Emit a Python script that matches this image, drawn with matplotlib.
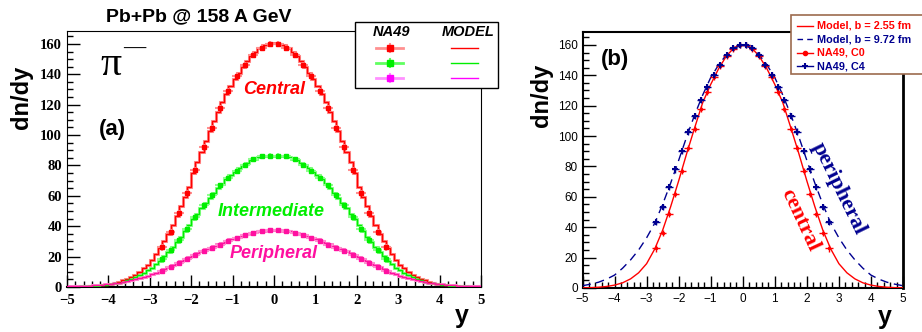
import numpy as np
import matplotlib
matplotlib.use("Agg")
import matplotlib.pyplot as plt
from matplotlib.lines import Line2D
from matplotlib.patches import Rectangle
from matplotlib.ticker import MultipleLocator

# ---- data ----
# model histograms, bin centres 0.05 ... 4.95 (bin width 0.1), mirrored to y < 0
central_half = [160.5, 160, 159, 157.5, 155, 152, 148.5, 145, 141, 137,
                132, 127, 121.5, 115.5, 109, 102.5, 96, 89, 82, 75,
                66, 59.5, 53, 46.5, 40.5, 35, 30, 25.5, 21.5, 17.8,
                14.8, 12.2, 10, 8.2, 6.7, 5.4, 4.3, 3.4, 2.7, 2.1,
                1.6, 1.2, 0.9, 0.65, 0.45, 0.3, 0.2, 0.13, 0.08, 0.05]
intermediate_half = [86.5, 86.4, 86, 85.3, 84.4, 83.3, 81.8, 80, 78, 75.8,
                     73.4, 70.8, 68, 65, 62, 58.8, 55.5, 52, 48.3, 44.5,
                     40.6, 36.8, 33.1, 29.6, 26.2, 23, 20.1, 17.4, 15, 12.8,
                     10.9, 9.2, 7.7, 6.4, 5.3, 4.4, 3.6, 2.9, 2.4, 1.9,
                     1.5, 1.2, 0.95, 0.75, 0.58, 0.45, 0.35, 0.27, 0.2, 0.15]
peripheral_half = [37.5, 37.4, 37.1, 36.7, 36.2, 35.6, 34.9, 34.1, 33.2, 32.3,
                   31.3, 30.3, 29.2, 28.1, 27, 25.9, 24.8, 23.6, 22.4, 21.2,
                   19.9, 18.5, 17.1, 15.7, 14.3, 12.9, 11.6, 10.4, 9.3, 8.3,
                   7.4, 6.6, 5.8, 5.1, 4.5, 3.9, 3.4, 2.9, 2.5, 2.2,
                   1.9, 1.6, 1.35, 1.15, 0.95, 0.8, 0.65, 0.55, 0.45, 0.35]

# NA49 points at |y| = 0.1 ... 2.7
pts_y_half = [0.1, 0.3, 0.5, 0.7, 0.9, 1.1, 1.3, 1.5, 1.7, 1.9, 2.1, 2.3, 2.5, 2.7]
central_pts = [160, 157.5, 153, 146, 139, 129, 118, 104.5, 92, 77, 62, 49, 36, 26]
intermediate_pts = [86.5, 86, 84, 80.5, 76.5, 72, 67, 60.5, 54, 46, 38.5, 31, 24.5, 18.5]
peripheral_pts = [37.5, 37, 35.5, 34, 32, 30, 27.5, 25.5, 23.5, 21, 18.5, 15.5, 13, 10.5]
c4_pts = [160, 158, 153.5, 147, 140, 132, 123.5, 113, 103, 90, 78, 66.5, 53.5, 43.5]

# panel (b) model curves at |y| = 0, 0.25, ... 5
line_y_half = [0, 0.25, 0.5, 0.75, 1.0, 1.25, 1.5, 1.75, 2.0, 2.25, 2.5,
               2.75, 3.0, 3.25, 3.5, 3.75, 4.0, 4.25, 4.5, 4.75, 5.0]
model_b255 = [160, 158.5, 153, 144.5, 134, 122, 105.5, 88.5, 70.5, 53.5, 38,
              25.5, 16, 10, 6, 3.4, 1.9, 1.0, 0.5, 0.2, 0.1]
model_b972 = [160, 158, 153.8, 147, 138.5, 127, 114, 99.5, 84, 69, 55,
              42.5, 33, 25, 18.5, 13, 8.5, 5.8, 3.8, 2.5, 1.5]

RED = '#ff0000'
GREEN = '#00ee00'
PINK = '#ff10a0'
NAVY = '#000090'

W, H = 922, 332


def fpx(x, y):
    # pixel position (from top-left) -> figure fraction
    return x / W, 1 - y / H


def mirror(vals):
    return np.array(vals[::-1] + vals)


def mirror_pos(vals):
    return np.array([-v for v in vals[::-1]] + vals)


def mirror_line(vals):
    return np.array(vals[::-1] + vals[1:])


def style_axes(ax, serif):
    ax.set_xlim(-5, 5)
    ax.set_ylim(0, 168.5)
    ax.xaxis.set_major_locator(MultipleLocator(1))
    ax.xaxis.set_minor_locator(MultipleLocator(0.2))
    ax.yaxis.set_major_locator(MultipleLocator(20))
    ax.yaxis.set_minor_locator(MultipleLocator(5))
    ax.tick_params(which='both', direction='in', top=False, right=False)
    ax.tick_params(which='major', length=9, width=1)
    ax.tick_params(which='minor', length=4.5, width=1)
    if serif:
        family, size, weight = 'Liberation Serif', 10.5, 'bold'
    else:
        family, size, weight = 'Liberation Sans', 8.5, 'normal'
    for lab in ax.get_xticklabels() + ax.get_yticklabels():
        lab.set_fontfamily(family)
        lab.set_fontsize(size)
        lab.set_fontweight(weight)


fig = plt.figure(figsize=(W / 100, H / 100), dpi=100)

# ---------------- panel (a) ----------------
ax1 = fig.add_axes([67 / W, 45 / H, 414 / W, 256 / H])
edges = np.linspace(-5, 5, 101)
pts_y = mirror_pos(pts_y_half)
for half, pts, col, light, err in [
        (central_half, central_pts, RED, '#ff9090', 2.0),
        (intermediate_half, intermediate_pts, GREEN, '#90ff90', 1.5),
        (peripheral_half, peripheral_pts, PINK, '#ff90d0', 1.0)]:
    ax1.stairs(mirror(half), edges, color=light, lw=2.2, zorder=2)
    ax1.stairs(mirror(half), edges, color=col, lw=1.0, zorder=3)
    ax1.errorbar(pts_y, mirror(pts), xerr=0.12, yerr=err, fmt='s', ms=2.5,
                 color=col, ecolor=light, elinewidth=1.5, capsize=0, zorder=4)
for sp in ax1.spines.values():
    sp.set_linewidth(0.8)
ax1.spines['bottom'].set_linewidth(1.5)
style_axes(ax1, serif=True)
ax1.tick_params(axis='x', pad=5)
ax1.set_ylabel('dn/dy', fontfamily='Liberation Sans', fontweight='bold', fontsize=17)
ax1.yaxis.set_label_coords(-0.082, 0.742)
ax1.set_xlabel('y', fontfamily='Liberation Sans', fontweight='bold', fontsize=18)
ax1.xaxis.set_label_coords(0.954, -0.065)

txt_kw = dict(fontfamily='Liberation Sans', fontweight='bold', fontstyle='italic',
              fontsize=13, ha='center', va='center')
fig.text(*fpx(274, 90), 'Central', color=RED, **txt_kw)
fig.text(*fpx(271, 211), 'Intermediate', color=GREEN, **txt_kw)
fig.text(*fpx(274, 254), 'Peripheral', color=PINK, **txt_kw)
fig.text(*fpx(199, 17), 'Pb+Pb @ 158 A GeV', fontfamily='Liberation Sans',
         fontweight='bold', fontsize=14, ha='center', va='center')
fig.text(*fpx(111, 65), '\u03c0', fontfamily='Liberation Serif', fontsize=30,
         ha='center', va='center')
fig.text(*fpx(134, 49), '\u2014', fontfamily='Liberation Serif', fontweight='bold',
         fontsize=16, ha='center', va='center')
fig.text(*fpx(112, 130), '(a)', fontfamily='Liberation Sans', fontweight='bold',
         fontsize=16, ha='center', va='center')

# legend box of panel (a)
x0, y0 = fpx(355, 88)
x1, y1 = fpx(498, 22)
fig.add_artist(Rectangle((x0, y0), x1 - x0, y1 - y0, transform=fig.transFigure,
                         facecolor='white', edgecolor='black', lw=1.0, zorder=10))
fig.text(*fpx(391, 32), 'NA49', fontfamily='Liberation Sans', fontweight='bold',
         fontstyle='italic', fontsize=10.5, ha='center', va='center', zorder=11)
fig.text(*fpx(468, 32), 'MODEL', fontfamily='Liberation Sans', fontweight='bold',
         fontstyle='italic', fontsize=10.5, ha='center', va='center', zorder=11)
for yy, col, light in [(47.7, RED, '#ff9090'), (62.7, GREEN, '#60ff60'),
                       (78.3, '#ff00ff', '#ff90ff')]:
    xa, ya = fpx(376, yy)
    xb, _ = fpx(403, yy)
    fig.add_artist(Line2D([xa, xb], [ya, ya], transform=fig.transFigure,
                          color=light, lw=2, zorder=11))
    xm, _ = fpx(390, yy)
    _, yt = fpx(390, yy - 4)
    _, yb = fpx(390, yy + 4)
    fig.add_artist(Line2D([xm, xm], [yb, yt], transform=fig.transFigure,
                          color=light, lw=1.5, zorder=11))
    fig.add_artist(Line2D([xm], [ya], transform=fig.transFigure, marker='s', ms=4,
                          color=col, lw=0, zorder=12))
    xc, _ = fpx(451, yy)
    xd, _ = fpx(478, yy)
    fig.add_artist(Line2D([xc, xd], [ya, ya], transform=fig.transFigure,
                          color=col, lw=1, zorder=11))

# ---------------- panel (b) ----------------
ax2 = fig.add_axes([582.5 / W, 44 / H, 320.5 / W, 256 / H])
line_y = mirror_pos(line_y_half[1:])
half_n = len(line_y) // 2
line_y = np.concatenate([line_y[:half_n], [0.0], line_y[half_n:]])
ax2.plot(line_y, mirror_line(model_b255), color=RED, lw=1.0, zorder=3)
ax2.plot(line_y, mirror_line(model_b972), color=NAVY, lw=1.0, ls=(0, (6, 4)), zorder=3)
ax2.errorbar(pts_y, mirror(central_pts), xerr=0.12, yerr=2, fmt='.', ms=3,
             color=RED, elinewidth=1, capsize=0, zorder=4)
ax2.errorbar(pts_y, mirror(c4_pts), xerr=0.12, yerr=2, fmt='+', ms=5, mew=1.5,
             color=NAVY, elinewidth=1, capsize=0, zorder=5)
for sp in ax2.spines.values():
    sp.set_linewidth(1.5)
ax2.spines['right'].set_linewidth(2)
style_axes(ax2, serif=False)
ax2.set_ylabel('dn/dy', fontfamily='Liberation Sans', fontweight='bold', fontsize=17)
ax2.yaxis.set_label_coords(-0.092, 0.754)
ax2.set_xlabel('y', fontfamily='Liberation Sans', fontweight='bold', fontsize=18)
ax2.xaxis.set_label_coords(0.944, -0.065)

fig.text(*fpx(615, 60), '(b)', fontfamily='Liberation Sans', fontweight='bold',
         fontsize=16, ha='center', va='center')
fig.text(*fpx(800, 220), 'central', color=RED, fontfamily='Liberation Serif',
         fontweight='bold', fontsize=16, rotation=-65, rotation_mode='anchor',
         ha='center', va='center')
fig.text(*fpx(839, 189), 'peripheral', color=NAVY, fontfamily='Liberation Serif',
         fontweight='bold', fontsize=16, rotation=-64, rotation_mode='anchor',
         ha='center', va='center')

# legend box of panel (b)
x0, y0 = fpx(791, 74)
x1, y1 = fpx(930, 14.7)
fig.add_artist(Rectangle((x0, y0), x1 - x0, y1 - y0, transform=fig.transFigure,
                         facecolor='white', edgecolor='#9c6b4e', lw=1.2, zorder=10))
entries = [('Model, b = 2.55 fm', RED, 'solid', None),
           ('Model, b = 9.72 fm', NAVY, 'dash', None),
           ('NA49, C0', RED, 'solid', '.'),
           ('NA49, C4', NAVY, 'solid', '+')]
for i, (txt, col, ls, mk) in enumerate(entries):
    yy = 25.7 + i * 13.5
    xa, ya = fpx(797, yy)
    xb, _ = fpx(813, yy)
    dash = (0, (4, 3)) if ls == 'dash' else 'solid'
    fig.add_artist(Line2D([xa, xb], [ya, ya], transform=fig.transFigure,
                          color=col, lw=1, ls=dash, zorder=11))
    if mk:
        xm, _ = fpx(805, yy)
        fig.add_artist(Line2D([xm], [ya], transform=fig.transFigure, marker=mk,
                              ms=5, mew=1.5, color=col, lw=0, zorder=12))
    fig.text(*fpx(817, yy), txt, color=col, fontfamily='Liberation Sans',
             fontweight='bold', fontsize=7.8, ha='left', va='center', zorder=12)

fig.savefig('out.png', dpi=100)
